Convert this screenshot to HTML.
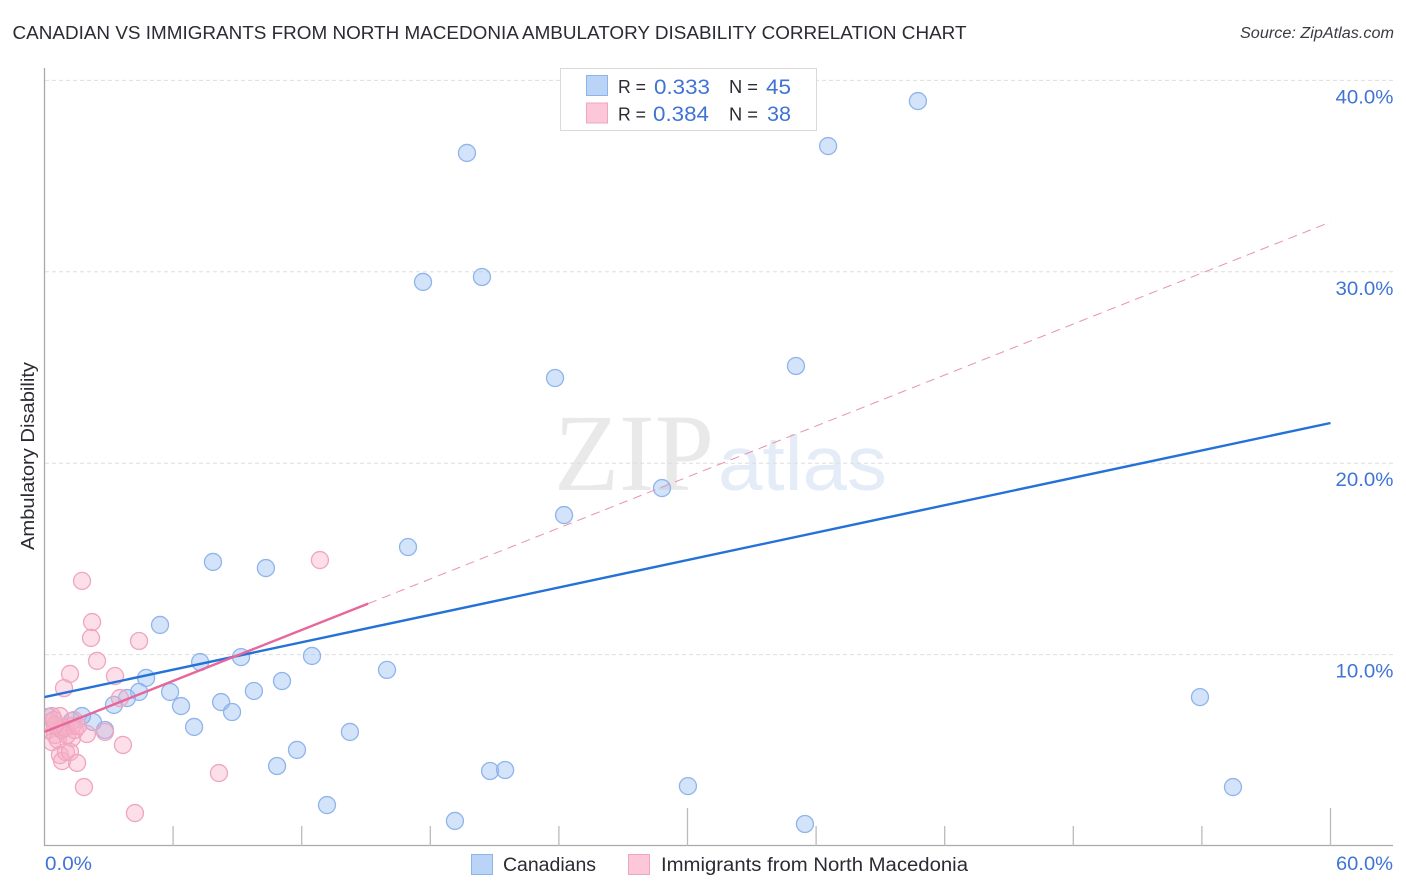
<!DOCTYPE html>
<html lang="en">
<head>
<meta charset="utf-8">
<title>Canadian vs Immigrants from North Macedonia Ambulatory Disability Correlation Chart</title>
<style>
html,body{margin:0;padding:0;background:#fff;}
svg{display:block;font-family:"Liberation Sans",sans-serif;}
</style>
</head>
<body>
<svg id="chart" xmlns="http://www.w3.org/2000/svg" width="1406" height="892" viewBox="0 0 1406 892">
  <defs>
    <clipPath id="plot-clip"><rect x="45" y="60" width="1350" height="786"/></clipPath>
  </defs>
  <rect x="0" y="0" width="1406" height="892" fill="#ffffff"/>
  <text x="12.5" y="39" font-size="18.5" fill="#2b2b33" textLength="954" lengthAdjust="spacingAndGlyphs">CANADIAN VS IMMIGRANTS FROM NORTH MACEDONIA AMBULATORY DISABILITY CORRELATION CHART</text>
  <text x="1394" y="38" font-size="15.5" font-style="italic" fill="#3a3a42" text-anchor="end" textLength="154" lengthAdjust="spacingAndGlyphs">Source: ZipAtlas.com</text>

  <g id="watermark">
    <text x="554" y="490" font-family="'Liberation Serif',serif" font-size="110" fill="#e9e9e9" textLength="160" lengthAdjust="spacingAndGlyphs">ZIP</text>
    <text x="718" y="490" font-size="77" fill="#e4ecf8" textLength="169" lengthAdjust="spacingAndGlyphs">atlas</text>
  </g>

  <g id="grid"></g>
  <g id="axes"></g>
  <g id="ylabels"></g>
  <g id="points-blue" clip-path="url(#plot-clip)"></g>
  <g id="points-pink" clip-path="url(#plot-clip)"></g>
  <g id="trends"></g>

  <text transform="translate(34,456) rotate(-90)" font-size="18.5" fill="#2b2b33" text-anchor="middle" textLength="188" lengthAdjust="spacingAndGlyphs">Ambulatory Disability</text>
  <text x="45" y="870" font-size="19.5" fill="#3f74d6" textLength="47" lengthAdjust="spacingAndGlyphs">0.0%</text>
  <text x="1336" y="870" font-size="19.5" fill="#3f74d6" textLength="57" lengthAdjust="spacingAndGlyphs">60.0%</text>

  <g>
    <rect x="560.5" y="68.5" width="256" height="62" fill="#ffffff" stroke="#d9d9d9"/>
    <rect x="586.5" y="75.5" width="21" height="20" fill="#b9d4f7" stroke="#8fb4ea"/>
    <rect x="586.5" y="103" width="21" height="20" fill="#fcc8d9" stroke="#f0a5bf"/>
    <text x="618" y="93" font-size="18" fill="#2b2b33" textLength="28" lengthAdjust="spacingAndGlyphs">R =</text>
    <text x="654" y="94" font-size="21" fill="#3f74d6" textLength="56" lengthAdjust="spacingAndGlyphs">0.333</text>
    <text x="729" y="93" font-size="18" fill="#2b2b33" textLength="29" lengthAdjust="spacingAndGlyphs">N =</text>
    <text x="766" y="94" font-size="21" fill="#3f74d6" textLength="25" lengthAdjust="spacingAndGlyphs">45</text>
    <text x="618" y="120.5" font-size="18" fill="#2b2b33" textLength="28" lengthAdjust="spacingAndGlyphs">R =</text>
    <text x="653" y="121" font-size="21" fill="#3f74d6" textLength="56" lengthAdjust="spacingAndGlyphs">0.384</text>
    <text x="729" y="120.5" font-size="18" fill="#2b2b33" textLength="29" lengthAdjust="spacingAndGlyphs">N =</text>
    <text x="767" y="121" font-size="21" fill="#3f74d6" textLength="24" lengthAdjust="spacingAndGlyphs">38</text>
  </g>

  <g>
    <rect x="471.5" y="854.5" width="21" height="20" fill="#b9d4f7" stroke="#8fb4ea"/>
    <text x="503" y="871" font-size="19" fill="#2b2b33" textLength="93" lengthAdjust="spacingAndGlyphs">Canadians</text>
    <rect x="628.5" y="854.5" width="21" height="20" fill="#fcc8d9" stroke="#f0a5bf"/>
    <text x="661" y="871" font-size="19" fill="#2b2b33" textLength="307" lengthAdjust="spacingAndGlyphs">Immigrants from North Macedonia</text>
  </g>
</svg>
<script>
// Data (x and y in percent)
const canadiansX = [19.71,36.56,40.75,17.66,20.41,23.82,35.06,28.81,24.24,16.96,7.86,10.33,5.39,7.26,9.17,12.48,4.74,4.41,5.86,6.37,3.85,3.24,8.24,8.75,9.77,11.08,15.98,6.98,14.25,2.82,2.26,1.75,1.28,11.78,10.85,20.79,21.49,13.18,19.15,30.02,35.48,53.91,55.45,0.2,0.72];
const canadiansY = [36.21,36.57,38.92,29.47,29.73,24.45,25.08,18.70,17.29,15.62,14.84,14.52,11.55,9.61,9.87,9.93,8.78,8.05,8.05,7.31,7.73,7.37,7.52,7.00,8.10,8.62,9.20,6.22,5.96,6.06,6.48,6.79,6.53,5.02,4.18,3.92,3.97,2.14,1.31,3.13,1.15,7.78,3.08,6.75,6.11];
const immigrantsX = [12.85,1.75,2.22,2.17,4.41,2.45,1.19,3.29,0.91,3.52,8.14,4.22,1.84,3.66,2.82,1.98,1.38,1.28,0.72,0.35,0.26,0.16,0.49,0.35,0.63,1.28,0.82,1.05,0.72,0.82,1.00,1.19,1.52,0.96,1.42,0.49,1.56,0.44];
const immigrantsY = [14.94,13.85,11.70,10.87,10.71,9.67,8.99,8.88,8.25,7.73,3.81,1.72,3.08,5.28,5.96,5.85,6.58,6.27,6.79,6.79,6.48,6.06,5.80,5.43,5.54,5.64,6.06,5.80,4.75,4.44,4.91,4.91,4.34,6.17,6.06,6.32,6.27,6.58];
const canadiansTrend = [7.78, 22.1];       // value at x = 0 and x = 60
const immigrantsTrend = [5.96, 32.6];      // value at x = 0 and x = 60
const immigrantsSolidEnd = [15.1];         // solid part ends at this x
const yTicks = [10, 20, 30, 40];
const yTickLabels = ["10.0%", "20.0%", "30.0%", "40.0%"];
const xTicks = [0, 6, 12, 18, 24, 30, 36, 42, 48, 54, 60];
const xMajorTicks = [30, 60];

// Axis functions
const NS = 'http://www.w3.org/2000/svg';
function xScale(v) { return 44.5 + v * (1286 / 60); }
function yScale(v) { return 846 - v * 19.14; }
function make(parent, tag, attrs) {
  const el = document.createElementNS(NS, tag);
  for (const k in attrs) el.setAttribute(k, attrs[k]);
  document.getElementById(parent).appendChild(el);
  return el;
}

yTicks.forEach(function (t, i) {
  const y = yScale(t);
  const line = make('grid', 'line', {x1: 45, x2: 1393, y1: y, y2: y, stroke: '#dedede', 'stroke-width': 1, 'stroke-dasharray': '4 3'});
  
  
  const label = make('ylabels', 'text', {x: 1393.5, y: y + 23, 'font-size': 19.5, fill: '#3f74d6', 'text-anchor': 'end', textLength: 58, lengthAdjust: 'spacingAndGlyphs'});
  
  
  label.textContent = yTickLabels[i];
});

const yAxis = make('axes', 'line', {x1: 44.5, x2: 44.5, y1: 68, y2: 846, stroke: '#aaaaaa', 'stroke-width': 1.3});


const xAxis = make('axes', 'line', {x1: 44, x2: 1393, y1: 845.5, y2: 845.5, stroke: '#aaaaaa', 'stroke-width': 1.3});


xTicks.forEach(function (t) {
  if (t === 0) return;
  const top = xMajorTicks.indexOf(t) >= 0 ? 808 : 826;
  const tick = make('axes', 'line', {x1: xScale(t), x2: xScale(t), y1: top, y2: 846, stroke: '#bbbbbb', 'stroke-width': 1.3});
  
  
});

canadiansX.forEach(function (v, i) {
  const c = make('points-blue', 'circle', {cx: xScale(v), cy: yScale(canadiansY[i]), r: 8.5, fill: 'rgba(150,190,242,0.42)', stroke: '#8fb4ea', 'stroke-width': 1.3});
  
  
});
immigrantsX.forEach(function (v, i) {
  const c = make('points-pink', 'circle', {cx: xScale(v), cy: yScale(immigrantsY[i]), r: 8.5, fill: 'rgba(248,175,198,0.4)', stroke: '#f0a5bf', 'stroke-width': 1.3});
  
  
});

function trendValue(tr, x) { return tr[0] + (tr[1] - tr[0]) * x / 60; }
const xEnd = immigrantsSolidEnd[0];
const dashed = make('trends', 'line', {x1: xScale(xEnd), y1: yScale(trendValue(immigrantsTrend, xEnd)), x2: xScale(60), y2: yScale(trendValue(immigrantsTrend, 60)), stroke: '#e892ac', 'stroke-width': 1, 'stroke-dasharray': '9 6'});


const blueLine = make('trends', 'line', {x1: xScale(0), y1: yScale(trendValue(canadiansTrend, 0)), x2: xScale(60), y2: yScale(trendValue(canadiansTrend, 60)), stroke: '#2471d8', 'stroke-width': 2.4});


const pinkLine = make('trends', 'line', {x1: xScale(0), y1: yScale(trendValue(immigrantsTrend, 0)), x2: xScale(xEnd), y2: yScale(trendValue(immigrantsTrend, xEnd)), stroke: '#e8679a', 'stroke-width': 2.4});


</script>
</body>
</html>
